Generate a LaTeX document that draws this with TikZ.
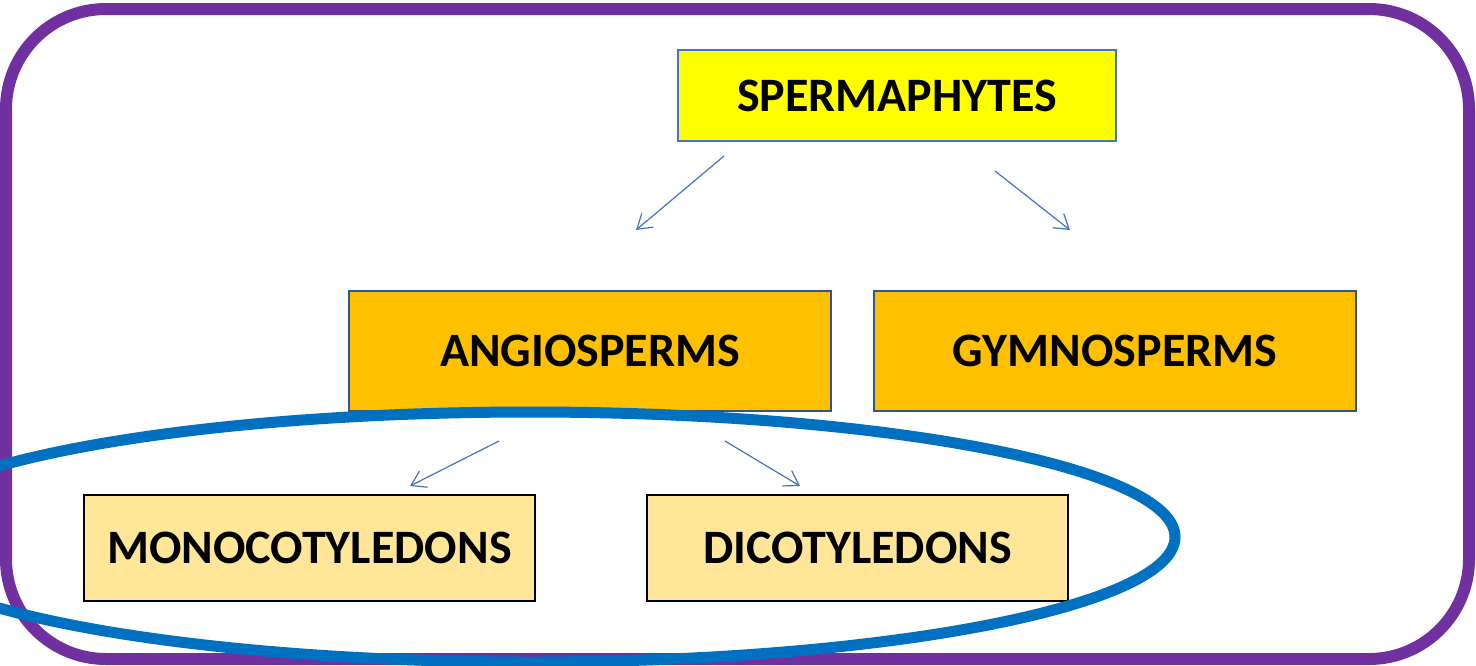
\documentclass[tikz,border=0pt]{standalone}
\usepackage{fontspec}
\setmainfont{Carlito}
\usetikzlibrary{arrows.meta}
\definecolor{morado}{RGB}{112,48,160}
\definecolor{azulelip}{RGB}{0,112,192}
\definecolor{azulflecha}{RGB}{68,114,196}
\definecolor{azulborde}{RGB}{47,85,151}
\definecolor{amarillo}{RGB}{255,255,0}
\definecolor{dorado}{RGB}{255,192,0}
\definecolor{crema}{RGB}{255,230,153}
\tikzset{
  caja/.style={draw, line width=1pt, align=center,
    font=\fontsize{24}{28}\selectfont\bfseries},
  flecha/.style={azulflecha, line width=0.6pt,
    -{Straight Barb[length=7pt,width=9pt]}}
}
\begin{document}
\begin{tikzpicture}[x=0.5pt,y=-0.5pt]
    \useasboundingbox (0,0) rectangle (1476,665);
    % Marco exterior
    \draw[morado, line width=6pt, rounded corners=50pt] (6,9) rectangle (1469,659);
    % Cajas
    \node[caja, fill=amarillo, draw=azulflecha, minimum width=219pt, minimum height=45.5pt]
        (sperm) at (897,95.5) {SPERMAPHYTES};
    \node[caja, fill=dorado, draw=azulborde, minimum width=241pt, minimum height=60pt]
        (angio) at (590,351) {ANGIOSPERMS};
    \node[caja, fill=dorado, draw=azulborde, minimum width=241pt, minimum height=60pt]
        (gymno) at (1115,351) {GYMNOSPERMS};
    \node[caja, fill=crema, draw=black, minimum width=225.5pt, minimum height=53pt]
        (mono) at (309.5,548) {MONOCOTYLEDONS};
    \node[caja, fill=crema, draw=black, minimum width=210.5pt, minimum height=53pt]
        (dicot) at (857.5,548) {DICOTYLEDONS};
    % Extremos de las flechas
    \coordinate (sa) at (724,156);
    \coordinate (ta) at (636,230);
    \coordinate (sg) at (995,171);
    \coordinate (tg) at (1070,230);
    \coordinate (am) at (499,441);
    \coordinate (tm) at (410,486);
    \coordinate (ad) at (725,441);
    \coordinate (td) at (800,486);
    \draw[flecha] (sa) -- (ta);
    \draw[flecha] (sg) -- (tg);
    \draw[flecha] (am) -- (tm);
    \draw[flecha] (ad) -- (td);
    % Elipse de las angiospermas
    \draw[azulelip, line width=5.5pt] (530,537) ellipse [x radius=645, y radius=125];
\end{tikzpicture}
\end{document}
